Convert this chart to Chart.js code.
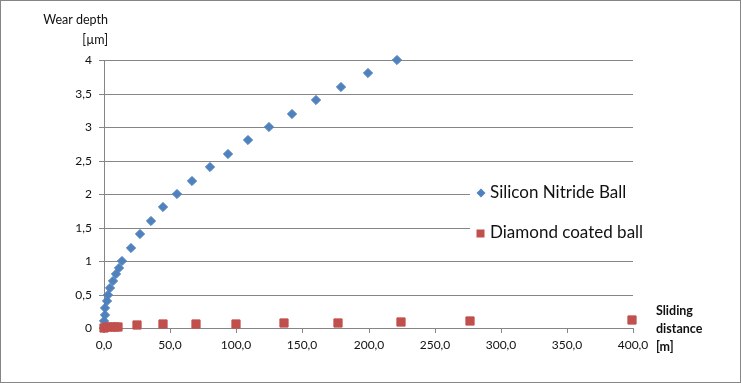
<!DOCTYPE html>
<html>
<head>
<meta charset="utf-8">
<script src="https://cdn.jsdelivr.net/npm/chart.js@4/dist/chart.umd.min.js"></script>
<style>
  html, body { margin: 0; padding: 0; background: #fff; }
  #wrap { width: 741px; height: 383px; position: relative; }
</style>
</head>
<body>
<div id="wrap"><canvas id="c" width="741" height="383"></canvas></div>
<script>
// ---- data ----
const seriesNames = ['Silicon Nitride Ball', 'Diamond coated ball'];

const siliconX = [0, 0.2, 0.5, 1.0, 2.0, 3.3, 4.8, 7.0, 9.0, 11.0, 13.4,
                  20.3, 27.4, 35.7, 44.5, 55.0, 66.7, 80.0, 94.0, 108.8, 124.7, 142.0, 160.0, 179.4, 199.8, 221.5];
const siliconY = [0, 0.1, 0.2, 0.3, 0.4, 0.5, 0.6, 0.7, 0.8, 0.9, 1.0,
                  1.2, 1.4, 1.6, 1.8, 2.0, 2.2, 2.4, 2.6, 2.8, 3.0, 3.2, 3.4, 3.6, 3.8, 4.0];

const diamondX = [0, 2.0, 5.0, 8.0, 10.6, 25.0, 44.6, 69.6, 99.8, 136.0, 177.0, 224.6, 276.8, 399.0];
const diamondY = [0.005, 0.008, 0.01, 0.012, 0.015, 0.045, 0.055, 0.055, 0.064, 0.075, 0.075, 0.09, 0.11, 0.12];

const xTicks = [0, 50, 100, 150, 200, 250, 300, 350, 400];
const xTickLabels = ['0,0', '50,0', '100,0', '150,0', '200,0', '250,0', '300,0', '350,0', '400,0'];
const yTicks = [0, 0.5, 1, 1.5, 2, 2.5, 3, 3.5, 4];
const yTickLabels = ['0', '0,5', '1', '1,5', '2', '2,5', '3', '3,5', '4'];

const yTitleLines = ['Wear depth', '[µm]'];
const xTitleLines = ['Sliding', 'distance', '[m]'];

// ---- styles ----
const BLUE = '#4F81BD';
const RED = '#C0504D';
const GRID = '#868686';
const TEXT = '#111111';
const FONT = 'Lato';

const toPoints = (xs, ys) => xs.map((x, i) => ({ x: x, y: ys[i] }));

const overlay = {
  id: 'overlay',
  afterDraw(chart) {
    const ctx = chart.ctx;
    ctx.save();
    // outer border
    ctx.strokeStyle = GRID;
    ctx.lineWidth = 1;
    ctx.strokeRect(0.5, 0.5, chart.width - 1, chart.height - 1);

    // y-axis title (top-left, right aligned)
    ctx.fillStyle = TEXT;
    ctx.font = '12.5px ' + FONT;
    ctx.textAlign = 'right';
    ctx.textBaseline = 'middle';
    ctx.fillText(yTitleLines[0], 108, 20);
    ctx.fillText(yTitleLines[1], 108, 40);

    // x-axis title (right of axis end)
    ctx.font = 'bold 12.5px ' + FONT;
    ctx.textAlign = 'left';
    xTitleLines.forEach((t, i) => ctx.fillText(t, 656, 311 + i * 18));

    // legend with white background
    ctx.fillStyle = '#ffffff';
    ctx.fillRect(470, 172, 190, 80);
    ctx.font = '17px ' + FONT;
    ctx.textBaseline = 'middle';
    const rows = [193, 233];
    chart.data.datasets.forEach((ds, i) => {
      const y = rows[i];
      ctx.fillStyle = ds.backgroundColor;
      if (ds.pointStyle === 'rectRot') {
        ctx.beginPath();
        ctx.moveTo(481, y - 4.5);
        ctx.lineTo(485.5, y);
        ctx.lineTo(481, y + 4.5);
        ctx.lineTo(476.5, y);
        ctx.closePath();
        ctx.fill();
      } else {
        ctx.fillRect(476.5, y - 3.5, 8, 8);
      }
      ctx.fillStyle = TEXT;
      ctx.textAlign = 'left';
      ctx.fillText(ds.label, 490, y);
    });
    ctx.restore();
  }
};

new Chart(document.getElementById('c'), {
  type: 'scatter',
  data: {
    datasets: [
      {
        label: seriesNames[0],
        data: toPoints(siliconX, siliconY),
        pointStyle: 'rectRot',
        pointRadius: 4.6,
        backgroundColor: BLUE,
        borderColor: BLUE,
        borderWidth: 1,
        clip: false,
        order: 2
      },
      {
        label: seriesNames[1],
        data: toPoints(diamondX, diamondY),
        pointStyle: 'rect',
        pointRadius: 5.8,
        backgroundColor: RED,
        borderColor: RED,
        borderWidth: 1,
        clip: false,
        order: 1
      }
    ]
  },
  options: {
    responsive: false,
    animation: false,
    events: [],
    layout: { padding: { left: 0, top: 60, right: 108, bottom: 25 } },
    plugins: {
      legend: { display: false },
      tooltip: { enabled: false },
      title: { display: false }
    },
    scales: {
      x: {
        type: 'linear',
        min: 0,
        max: 400,
        alignToPixels: true,
        afterBuildTicks: (s) => { s.ticks = xTicks.map(v => ({ value: v })); },
        afterFit: (s) => { s.height = 30; },
        grid: { drawOnChartArea: false, drawTicks: true, tickLength: 5, color: GRID, lineWidth: 1 },
        border: { display: true, color: GRID, width: 1 },
        ticks: {
          color: TEXT,
          font: { family: FONT, size: 12 },
          padding: 5,
          maxRotation: 0,
          autoSkip: false,
          callback: (v, i) => xTickLabels[i]
        }
      },
      y: {
        type: 'linear',
        min: 0,
        max: 4,
        alignToPixels: true,
        afterBuildTicks: (s) => { s.ticks = yTicks.map(v => ({ value: v })); },
        afterFit: (s) => { s.width = 104; },
        grid: { drawOnChartArea: true, drawTicks: true, tickLength: 5, color: GRID, lineWidth: 1 },
        border: { display: true, color: GRID, width: 1 },
        ticks: {
          color: TEXT,
          font: { family: FONT, size: 12 },
          padding: 7,
          autoSkip: false,
          callback: (v, i) => yTickLabels[i]
        }
      }
    }
  },
  plugins: [overlay]
});
</script>
</body>
</html>
